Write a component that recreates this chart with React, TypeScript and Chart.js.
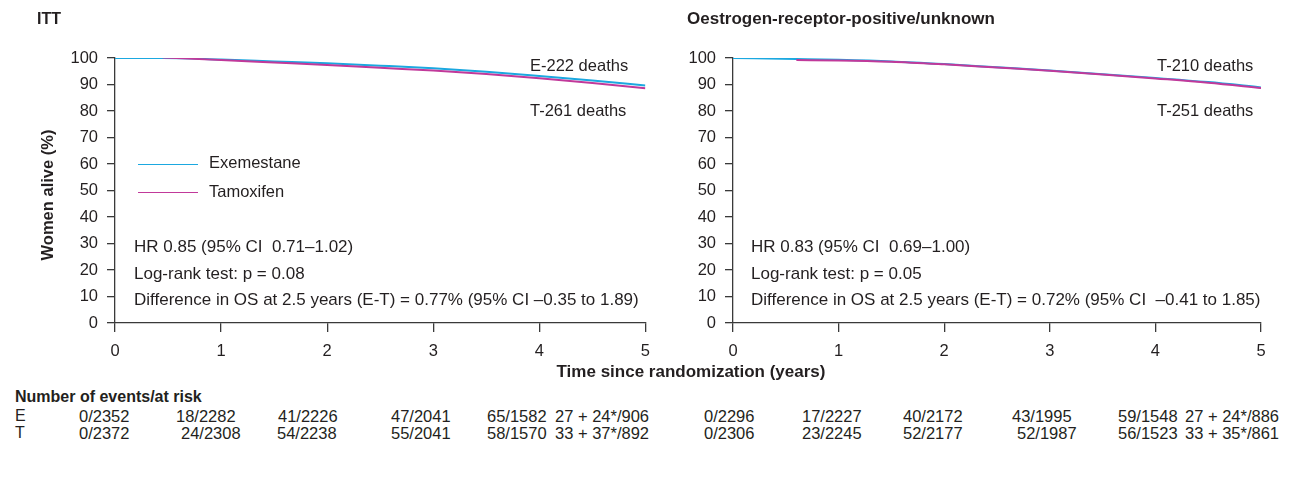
import React, { useEffect, useRef } from 'react';
import { Chart, registerables } from 'chart.js';

Chart.register(...registerables);

// ---------- data ----------
const ITT_E_YEARS = [0, 0.45, 1, 1.5, 2, 2.5, 3, 3.5, 4, 4.5, 5];
const ITT_E_SURV = [100, 100, 99.4, 98.7, 98.0, 97.1, 96.1, 94.8, 93.2, 91.5, 89.6];
const ITT_T_YEARS = [0.45, 1, 1.5, 2, 2.5, 3, 3.5, 4, 4.5, 5];
const ITT_T_SURV = [100.2, 99.2, 98.3, 97.4, 96.3, 95.3, 94.0, 92.4, 90.6, 88.6];

const ER_E_YEARS = [0, 0.6, 1, 1.5, 2, 2.5, 3, 3.5, 4, 4.5, 5];
const ER_E_SURV = [100, 99.6, 99.3, 98.7, 97.7, 96.5, 95.3, 93.9, 92.5, 90.9, 88.9];
const ER_T_YEARS = [0.6, 1, 1.5, 2, 2.5, 3, 3.5, 4, 4.5, 5];
const ER_T_SURV = [99.2, 99.1, 98.6, 97.6, 96.4, 95.2, 93.8, 92.3, 90.7, 88.7];

const SERIES_NAMES = ['Exemestane', 'Tamoxifen'];
const PANEL_TITLES = ['ITT', 'Oestrogen-receptor-positive/unknown'];
const ITT_DEATH_LABELS = ['E-222 deaths', 'T-261 deaths'];
const ER_DEATH_LABELS = ['T-210 deaths', 'T-251 deaths'];
const ITT_STATS = [
  'HR 0.85 (95% CI  0.71\u20131.02)',
  'Log-rank test: p = 0.08',
  'Difference in OS at 2.5 years (E-T) = 0.77% (95% CI \u20130.35 to 1.89)',
];
const ER_STATS = [
  'HR 0.83 (95% CI  0.69\u20131.00)',
  'Log-rank test: p = 0.05',
  'Difference in OS at 2.5 years (E-T) = 0.72% (95% CI  \u20130.41 to 1.85)',
];
const Y_TITLE = 'Women alive (%)';
const X_TITLE = 'Time since randomization (years)';
const RISK_TITLE = 'Number of events/at risk';
const RISK_ROW_LABELS = ['E', 'T'];
const RISK_ITT_E = ['0/2352', '18/2282', '41/2226', '47/2041', '65/1582', '27 + 24*/906'];
const RISK_ITT_T = ['0/2372', '24/2308', '54/2238', '55/2041', '58/1570', '33 + 37*/892'];
const RISK_ER_E = ['0/2296', '17/2227', '40/2172', '43/1995', '59/1548', '27 + 24*/886'];
const RISK_ER_T = ['0/2306', '23/2245', '52/2177', '52/1987', '56/1523', '33 + 35*/861'];

// ---------- styles ----------
const FONT = '"Liberation Sans", Arial, Helvetica, sans-serif';
const TEXT = '#231F20';
const AXIS = '#3a3a3a';
const BLUE = '#1BA8E0';
const MAGENTA = '#C1399A';
const FS = 16;

const toPts = (xs: number[], ys: number[]) => xs.map((x, i) => ({ x, y: ys[i] }));

type PanelProps = {
  left: number;
  width: number;
  yWidth: number;
  padRight: number;
  eX: number[];
  eY: number[];
  tX: number[];
  tY: number[];
};

const CANVAS_H = 380;
const CHART_TOP = 58;
const CHART_BOTTOM = 323;
const X_SCALE_H = 42;

function Panel({ left, width, yWidth, padRight, eX, eY, tX, tY }: PanelProps) {
  const ref = useRef<HTMLCanvasElement | null>(null);
  useEffect(() => {
    if (!ref.current) return;
    const tickFont = { family: FONT, size: 16.5 };
    const chart = new Chart(ref.current, {
      type: 'line',
      data: {
        datasets: [
          {
            label: SERIES_NAMES[1],
            data: toPts(tX, tY),
            borderColor: MAGENTA,
            borderWidth: 2,
            pointRadius: 0,
            cubicInterpolationMode: 'monotone',
            fill: false,
          },
          {
            label: SERIES_NAMES[0],
            data: toPts(eX, eY),
            borderColor: BLUE,
            borderWidth: 2,
            pointRadius: 0,
            cubicInterpolationMode: 'monotone',
            fill: false,
          },
        ],
      },
      options: {
        animation: false,
        responsive: false,
        maintainAspectRatio: false,
        devicePixelRatio: 1,
        layout: {
          padding: {
            left: 0,
            right: padRight,
            top: CHART_TOP,
            bottom: CANVAS_H - CHART_BOTTOM - X_SCALE_H,
          },
        },
        plugins: { legend: { display: false }, tooltip: { enabled: false }, title: { display: false } },
        scales: {
          x: {
            type: 'linear',
            min: 0,
            max: 5,
            ticks: { stepSize: 1, font: tickFont, color: TEXT, padding: 10, maxRotation: 0 },
            grid: { drawOnChartArea: false, drawTicks: true, tickLength: 9, color: AXIS, lineWidth: 1.3 },
            border: { display: true, color: AXIS, width: 1.3 },
            afterFit: (s: any) => {
              s.height = X_SCALE_H;
            },
          },
          y: {
            type: 'linear',
            min: 0,
            max: 100,
            ticks: { stepSize: 10, font: tickFont, color: TEXT, padding: 9 },
            grid: { drawOnChartArea: false, drawTicks: true, tickLength: 8, color: AXIS, lineWidth: 1.3 },
            border: { display: true, color: AXIS, width: 1.3 },
            afterFit: (s: any) => {
              s.width = yWidth;
            },
          },
        },
      },
    } as any);
    return () => chart.destroy();
  }, []);
  return (
    <canvas
      ref={ref}
      width={width}
      height={CANVAS_H}
      style={{ position: 'absolute', left, top: 0, width, height: CANVAS_H }}
    />
  );
}

function T({ x, cy, children, bold, size, style }: any) {
  return (
    <div
      style={{
        position: 'absolute',
        left: x,
        top: cy - 10,
        lineHeight: '20px',
        fontSize: size || FS,
        fontFamily: FONT,
        fontWeight: bold ? 'bold' : 'normal',
        color: TEXT,
        whiteSpace: 'pre',
        ...style,
      }}
    >
      {children}
    </div>
  );
}

const RISK_LEFT_E = [79, 176, 278, 391, 487, 555, 704, 802, 903, 1012, 1118, 1185];
const RISK_LEFT_T = [79, 181, 277, 391, 487, 555, 704, 802, 903, 1017, 1118, 1185];

export default function App() {
  const statsY = [247, 274, 300];
  const eRow = [...RISK_ITT_E, ...RISK_ER_E];
  const tRow = [...RISK_ITT_T, ...RISK_ER_T];
  return (
    <div
      style={{
        position: 'fixed',
        left: 0,
        top: 0,
        width: 1315,
        height: 478,
        background: '#fff',
        overflow: 'hidden',
      }}
    >
      <Panel left={0} width={660} yWidth={115} padRight={13} eX={ITT_E_YEARS} eY={ITT_E_SURV} tX={ITT_T_YEARS} tY={ITT_T_SURV} />
      <Panel left={660} width={655} yWidth={73} padRight={54} eX={ER_E_YEARS} eY={ER_E_SURV} tX={ER_T_YEARS} tY={ER_T_SURV} />

      <T x={37} cy={19} bold size={16}>{PANEL_TITLES[0]}</T>
      <T x={687} cy={19} bold size={17}>{PANEL_TITLES[1]}</T>

      <div
        style={{
          position: 'absolute',
          left: 47,
          top: 195,
          transform: 'translate(-50%, -50%) rotate(-90deg)',
          fontFamily: FONT,
          fontSize: 16.5,
          fontWeight: 'bold',
          color: TEXT,
          whiteSpace: 'pre',
          lineHeight: '20px',
        }}
      >
        {Y_TITLE}
      </div>

      <T x={530} cy={65} size={16.5}>{ITT_DEATH_LABELS[0]}</T>
      <T x={530} cy={110} size={16.5}>{ITT_DEATH_LABELS[1]}</T>
      <T x={1157} cy={65} size={16.5}>{ER_DEATH_LABELS[0]}</T>
      <T x={1157} cy={110} size={16.5}>{ER_DEATH_LABELS[1]}</T>

      <div style={{ position: 'absolute', left: 138, top: 164, width: 60, height: 1.2, background: BLUE }} />
      <div style={{ position: 'absolute', left: 138, top: 192, width: 60, height: 1.2, background: MAGENTA }} />
      <T x={209} cy={162} size={16.5}>{SERIES_NAMES[0]}</T>
      <T x={209} cy={191} size={16.5}>{SERIES_NAMES[1]}</T>

      {ITT_STATS.map((s, i) => (
        <T key={'a' + i} x={134} cy={statsY[i]} size={17}>{s}</T>
      ))}
      {ER_STATS.map((s, i) => (
        <T key={'b' + i} x={751} cy={statsY[i]} size={17}>{s}</T>
      ))}

      <div
        style={{
          position: 'absolute',
          left: 691,
          top: 362,
          transform: 'translateX(-50%)',
          fontFamily: FONT,
          fontSize: 17,
          fontWeight: 'bold',
          color: TEXT,
          whiteSpace: 'pre',
          lineHeight: '20px',
        }}
      >
        {X_TITLE}
      </div>

      <T x={15} cy={397} bold>{RISK_TITLE}</T>
      <T x={15} cy={416}>{RISK_ROW_LABELS[0]}</T>
      <T x={15} cy={433}>{RISK_ROW_LABELS[1]}</T>
      {eRow.map((s, i) => (
        <T key={'e' + i} x={RISK_LEFT_E[i]} cy={416} size={16.5}>{s}</T>
      ))}
      {tRow.map((s, i) => (
        <T key={'t' + i} x={RISK_LEFT_T[i]} cy={433} size={16.5}>{s}</T>
      ))}
    </div>
  );
}
